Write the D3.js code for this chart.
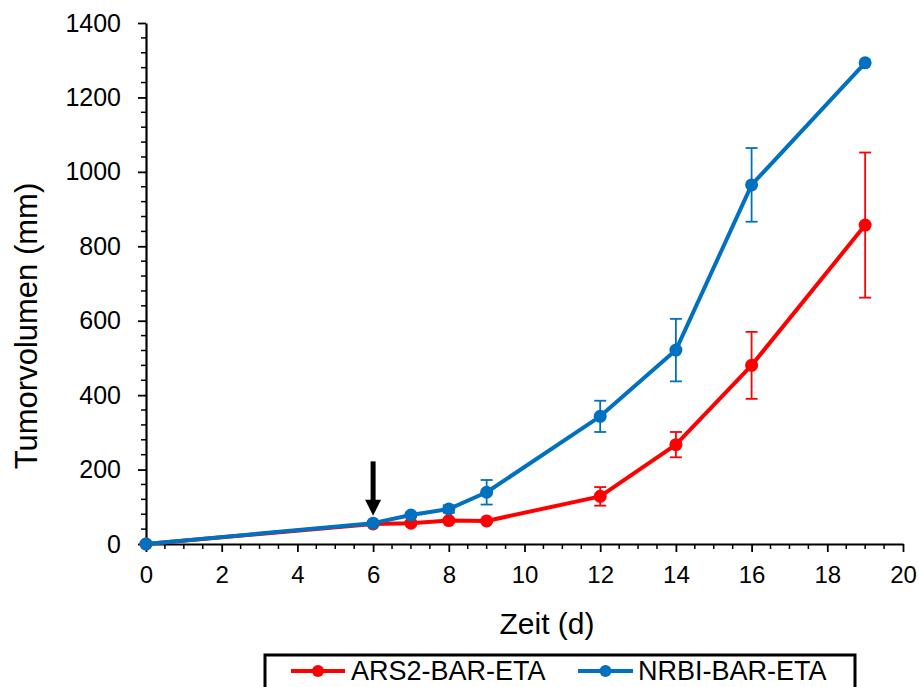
<!DOCTYPE html>
<html>
<head>
<meta charset="utf-8">
<script src="https://cdn.jsdelivr.net/npm/d3@7"></script>
<style>
  html, body { margin: 0; padding: 0; background: #fff; }
  svg { display: block; font-family: Arial, "Liberation Sans", sans-serif; }
</style>
</head>
<body>
<svg id="chart" width="919" height="687"></svg>
<script>
// Tumour volume over time for two groups (mean ± error)
const days = [0, 6, 7, 8, 9, 12, 14, 16, 19];

const arsValues = [0, 54, 56, 63, 62, 128, 267, 480, 857];
const arsErrors = [0, 4, 4, 5, 4, 25, 34, 90, 195];

const nrbiValues = [0, 56, 78, 94, 139, 343, 521, 965, 1293];
const nrbiErrors = [0, 4, 6, 10, 33, 42, 84, 99, 0];

const seriesNames = ["ARS2-BAR-ETA", "NRBI-BAR-ETA"];
const seriesColors = ["#FF0000", "#0070C0"];

const xTicks = [0, 2, 4, 6, 8, 10, 12, 14, 16, 18, 20];
const yTicks = [0, 200, 400, 600, 800, 1000, 1200, 1400];

// Treatment start marker (day, from value, to value)
const arrowDay = 6;
const arrowFrom = 222;
const arrowTo = 76;

const svg = d3.select("#chart");

const x = d3.scaleLinear().domain([0, 20]).range([146, 903]);
const y = d3.scaleLinear().domain([0, 1400]).range([544, 23]);

// Minor ticks
const xMinor = d3.range(0, 20.01, 0.5).filter(v => !xTicks.includes(v));
const yMinor = d3.range(0, 1400.1, 40).filter(v => !yTicks.includes(v));

const axes = svg.append("g");

axes.selectAll("line.xminor").data(xMinor).join("line")
  .attr("x1", d => x(d)).attr("x2", d => x(d))
  .attr("y1", y(0)).attr("y2", y(0) + 5)
  .attr("stroke", "#000").attr("stroke-width", 1.5);
axes.selectAll("line.yminor").data(yMinor).join("line")
  .attr("y1", d => y(d)).attr("y2", d => y(d))
  .attr("x1", x(0) - 5).attr("x2", x(0))
  .attr("stroke", "#000").attr("stroke-width", 1.5);

const xAxis = axes.append("g")
  .attr("transform", `translate(0,${y(0)})`)
  .call(d3.axisBottom(x).tickValues(xTicks).tickFormat(d3.format("d"))
    .tickSize(8).tickSizeOuter(0).tickPadding(14));
xAxis.select(".domain").attr("stroke-width", 2.2);
xAxis.selectAll(".tick line").attr("stroke-width", 1.8);
xAxis.selectAll(".tick text").attr("font-size", 24).attr("fill", "#000")
  .attr("font-family", "Arial, 'Liberation Sans', sans-serif");

const yAxis = axes.append("g")
  .attr("transform", `translate(${x(0)},0)`)
  .call(d3.axisLeft(y).tickValues(yTicks).tickFormat(d3.format("d"))
    .tickSize(8).tickSizeOuter(0).tickPadding(17));
yAxis.select(".domain").attr("stroke-width", 2.2);
yAxis.selectAll(".tick line").attr("stroke-width", 1.8);
yAxis.selectAll(".tick text").attr("font-size", 25).attr("fill", "#000")
  .attr("font-family", "Arial, 'Liberation Sans', sans-serif");

// Axis titles
svg.append("text")
  .attr("x", 547).attr("y", 634)
  .attr("text-anchor", "middle")
  .attr("font-size", 30)
  .text("Zeit (d)");

svg.append("text")
  .attr("transform", "translate(37,326) rotate(-90)")
  .attr("text-anchor", "middle")
  .attr("font-size", 31)
  .text("Tumorvolumen (mm)");

// Series
const seriesData = [
  days.map((d, i) => ({ day: d, v: arsValues[i], e: arsErrors[i] })),
  days.map((d, i) => ({ day: d, v: nrbiValues[i], e: nrbiErrors[i] }))
];

const line = d3.line().x(d => x(d.day)).y(d => y(d.v));

seriesData.forEach((data, si) => {
  const color = seriesColors[si];
  const g = svg.append("g");
  const withErr = data.filter(d => d.e > 0);
  g.selectAll("line.err").data(withErr).join("line")
    .attr("x1", d => x(d.day)).attr("x2", d => x(d.day))
    .attr("y1", d => y(d.v + d.e)).attr("y2", d => y(d.v - d.e))
    .attr("stroke", color).attr("stroke-width", 1.8);
  g.selectAll("line.capTop").data(withErr).join("line")
    .attr("x1", d => x(d.day) - 6).attr("x2", d => x(d.day) + 6)
    .attr("y1", d => y(d.v + d.e)).attr("y2", d => y(d.v + d.e))
    .attr("stroke", color).attr("stroke-width", 1.8);
  g.selectAll("line.capBot").data(withErr).join("line")
    .attr("x1", d => x(d.day) - 6).attr("x2", d => x(d.day) + 6)
    .attr("y1", d => y(d.v - d.e)).attr("y2", d => y(d.v - d.e))
    .attr("stroke", color).attr("stroke-width", 1.8);
  g.append("path").datum(data)
    .attr("d", line)
    .attr("fill", "none")
    .attr("stroke", color)
    .attr("stroke-width", 4)
    .attr("stroke-linejoin", "round");
  g.selectAll("circle").data(data).join("circle")
    .attr("cx", d => x(d.day)).attr("cy", d => y(d.v))
    .attr("r", 6.5)
    .attr("fill", color);
});

// Arrow marking the start of treatment
const ax = x(arrowDay);
const headLen = 16;
svg.append("line")
  .attr("x1", ax).attr("x2", ax)
  .attr("y1", y(arrowFrom)).attr("y2", y(arrowTo) - headLen + 1)
  .attr("stroke", "#000").attr("stroke-width", 5);
svg.append("path")
  .attr("d", `M${ax - 8},${y(arrowTo) - headLen} L${ax + 8},${y(arrowTo) - headLen} L${ax},${y(arrowTo)} Z`)
  .attr("fill", "#000");

// Legend
const legend = svg.append("g");
legend.append("rect")
  .attr("x", 265).attr("y", 655)
  .attr("width", 590).attr("height", 40)
  .attr("fill", "#fff").attr("stroke", "#000").attr("stroke-width", 3);

const legendItems = [
  { x0: 291, x1: 345, tx: 351 },
  { x0: 578, x1: 633, tx: 638 }
];
legendItems.forEach((it, i) => {
  legend.append("line")
    .attr("x1", it.x0).attr("x2", it.x1)
    .attr("y1", 671).attr("y2", 671)
    .attr("stroke", seriesColors[i]).attr("stroke-width", 4);
  legend.append("circle")
    .attr("cx", (it.x0 + it.x1) / 2).attr("cy", 671).attr("r", 6)
    .attr("fill", seriesColors[i]);
  legend.append("text")
    .attr("x", it.tx).attr("y", 680)
    .attr("font-size", 27)
    .text(seriesNames[i]);
});
</script>
</body>
</html>
